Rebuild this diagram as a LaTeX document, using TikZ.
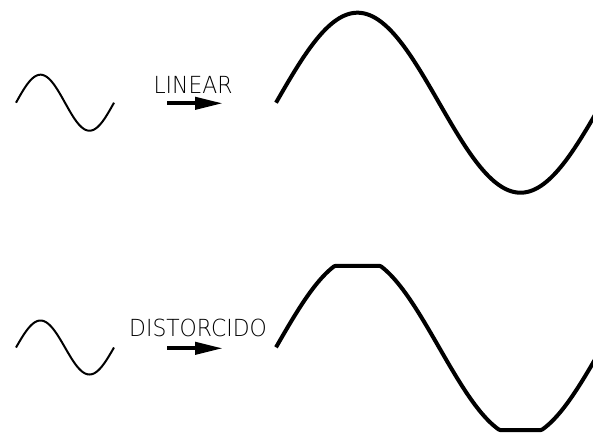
\documentclass[tikz,border=0pt]{standalone}
\usepackage{fontspec}
\newfontfamily\cadfont{DejaVu Sans ExtraLight}
\usetikzlibrary{arrows.meta}

\tikzset{
  smallwave/.style={line width=2pt, line join=round},
  bigwave/.style={line width=4pt, line join=round},
  fatarrow/.style={line width=4pt, -{Triangle[length=28pt, width=12pt]}},
  caption/.style={anchor=base, inner sep=0pt, xscale=0.93,
    font=\cadfont\fontsize{23.5}{24}\selectfont}
}

\begin{document}
\begin{tikzpicture}[x=1pt,y=-1pt]

  \useasboundingbox (0, 0) rectangle (593, 432);
  \clip (0, 0) rectangle (593, 432);

  % Input signals (one period each, 98px long)
  \draw[smallwave] plot[domain=0:360, samples=90]
    ({16+0.2722*\x}, {102.7-28*sin(\x)});
  \draw[smallwave] plot[domain=0:360, samples=90]
    ({16+0.2722*\x}, {347.5-27*sin(\x)});

  % Labels and arrows
  \node[caption] (lin) at (193, 93.3) {LINEAR};
  \node[caption] (dist) at (198, 336.7) {DISTORCIDO};

  \coordinate (linTail) at (167, 103.3);
  \coordinate (linHead) at (223, 103.3);
  \coordinate (distTail) at (167, 348.3);
  \coordinate (distHead) at (223, 348.3);
  \draw[fatarrow] (linTail) -- (linHead);
  \draw[fatarrow] (distTail) -- (distHead);

  % Amplified output: linear (period 326px)
  \draw[bigwave] plot[domain=0:358, samples=150]
    ({276+0.9056*\x}, {102.7-90*sin(\x)});

  % Amplified output: clipped at about 0.9 of the amplitude
  \draw[bigwave] plot[domain=0:358, samples=180]
    ({276+0.9056*\x}, {347.3-90*max(-0.92, min(0.905, sin(\x)))});

\end{tikzpicture}
\end{document}
